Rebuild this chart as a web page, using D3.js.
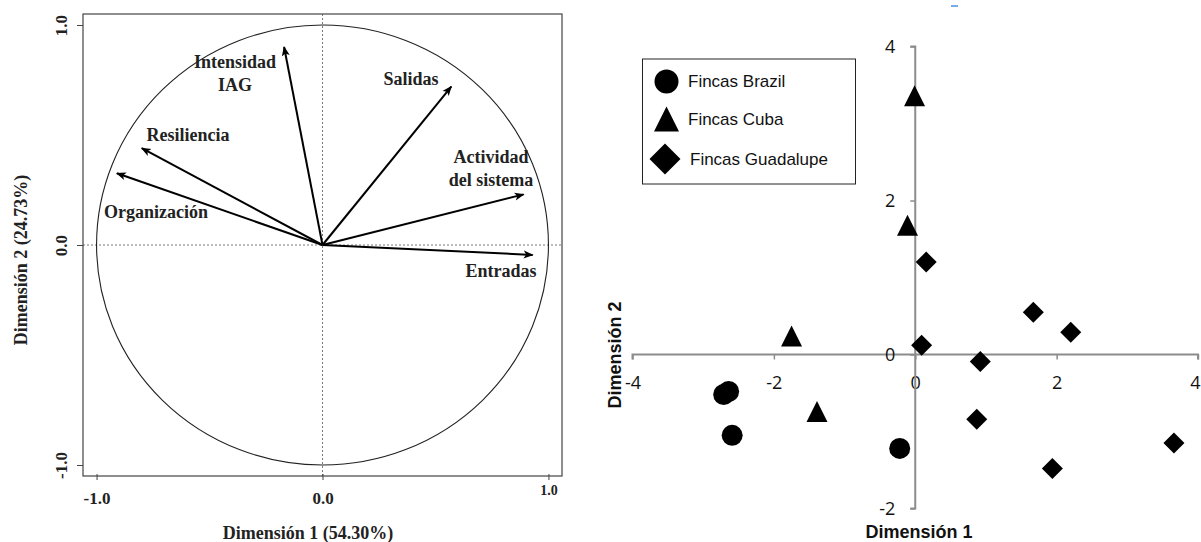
<!DOCTYPE html>
<html><head><meta charset="utf-8">
<script src="https://cdn.jsdelivr.net/npm/d3@7"></script>
<style>html,body{margin:0;padding:0;background:#fff;}svg{display:block;}</style>
</head><body>
<svg id="chart" width="1201" height="542"></svg>
<script>
// ---------- Left panel: correlation circle ----------
const varNames = ["Intensidad IAG", "Resiliencia", "Organización", "Salidas", "Actividad del sistema", "Entradas"];
const varDim1 = [-0.17, -0.80, -0.91, 0.57, 0.89, 0.93];
const varDim2 = [0.90, 0.44, 0.326, 0.72, 0.23, -0.045];
// label anchor points (data units) – lines split by "|"
const varLabelText = ["Intensidad|IAG", "Resiliencia", "Organización", "Salidas", "Actividad|del sistema", "Entradas"];
const varLabelX = [-0.387, -0.595, -0.737, 0.392, 0.746, 0.79];
const varLabelY = [0.78, 0.50, 0.15, 0.755, 0.348, -0.118];
const leftTicks = [-1, 0, 1];
const leftXTitle = "Dimensión 1 (54.30%)";
const leftYTitle = "Dimensión 2 (24.73%)";

// ---------- Right panel: scatter ----------
const brazilX = [-2.71, -2.64, -2.59, -0.22];
const brazilY = [-0.52, -0.48, -1.05, -1.22];
const cubaX = [-0.01, -0.11, -1.75, -1.39];
const cubaY = [3.36, 1.68, 0.24, -0.74];
const guadX = [0.155, 0.09, 0.92, 1.67, 2.20, 0.87, 1.94, 3.66];
const guadY = [1.20, 0.12, -0.09, 0.55, 0.29, -0.84, -1.48, -1.15];
const seriesNames = ["Fincas Brazil", "Fincas Cuba", "Fincas Guadalupe"];
const rightXTicks = [-4, -2, 0, 2, 4];
const rightYTicks = [-2, 0, 2, 4];
const rightXTitle = "Dimensión 1";
const rightYTitle = "Dimensión 2";

const svg = d3.select("#chart");
const serif = "'Liberation Serif','Times New Roman',serif";
const sans = "'Liberation Sans',Arial,sans-serif";
const tickFont = "'Open Sans','Noto Sans',sans-serif";
const fmt1 = d => d.toFixed(1);
const fmt0 = d => String(d);

// ===== LEFT =====
const L = {left: 83, right: 562, top: 14, bottom: 476};
const lx = d3.scaleLinear().domain([-1.06, 1.06]).range([L.left, L.right]);
const ly = d3.scaleLinear().domain([-1.05, 1.05]).range([L.bottom, L.top]);
const gl = svg.append("g");

svg.append("defs").append("marker")
  .attr("id", "arr").attr("viewBox", "0 0 10 10").attr("refX", 9).attr("refY", 5)
  .attr("markerWidth", 5).attr("markerHeight", 5).attr("markerUnits", "strokeWidth")
  .attr("orient", "auto")
  .append("path").attr("d", "M0,1 L10,5 L0,9 L2.5,5 Z").attr("fill", "#000");

gl.append("line").attr("x1", L.left).attr("x2", L.right).attr("y1", ly(0)).attr("y2", ly(0))
  .attr("stroke", "#555").attr("stroke-width", 0.8).attr("stroke-dasharray", "2,2");
gl.append("line").attr("x1", lx(0)).attr("x2", lx(0)).attr("y1", L.top).attr("y2", L.bottom)
  .attr("stroke", "#555").attr("stroke-width", 0.8).attr("stroke-dasharray", "2,2");

gl.append("ellipse").attr("cx", lx(0)).attr("cy", ly(0))
  .attr("rx", lx(1) - lx(0)).attr("ry", ly(0) - ly(1))
  .attr("fill", "none").attr("stroke", "#222").attr("stroke-width", 1.1);

gl.append("rect").attr("x", L.left).attr("y", L.top).attr("width", L.right - L.left).attr("height", L.bottom - L.top)
  .attr("fill", "none").attr("stroke", "#444").attr("stroke-width", 1.2);

gl.selectAll("line.vec").data(varNames).join("line").attr("class", "vec")
  .attr("x1", lx(0)).attr("y1", ly(0))
  .attr("x2", (d, i) => lx(varDim1[i])).attr("y2", (d, i) => ly(varDim2[i]))
  .attr("stroke", "#000").attr("stroke-width", 2).attr("marker-end", "url(#arr)");

varLabelText.forEach((t, i) => {
  const lines = t.split("|");
  const txt = gl.append("text").attr("x", lx(varLabelX[i])).attr("y", ly(varLabelY[i]))
    .attr("text-anchor", "middle").attr("font-family", serif).attr("font-weight", "bold")
    .attr("font-size", 18).attr("fill", "#222");
  const lh = 23;
  lines.forEach((ln, j) => {
    txt.append("tspan").attr("x", lx(varLabelX[i]))
      .attr("y", ly(varLabelY[i]) + (j - (lines.length - 1) / 2) * lh)
      .attr("dy", "0.35em").text(ln);
  });
});

const lxAxis = d3.axisBottom(lx).tickValues(leftTicks).tickFormat(fmt1).tickSize(5);
const gxa = gl.append("g").attr("transform", `translate(0,${L.bottom})`).call(lxAxis);
gxa.select(".domain").remove();
gxa.selectAll(".tick line").attr("stroke", "#444").attr("y1", -2).attr("y2", 4);
gxa.selectAll(".tick text").attr("font-family", serif).attr("font-weight", "bold").attr("font-size", 17)
  .attr("fill", "#222").attr("y", 22).attr("dy", "0.35em");
gxa.selectAll(".tick text").filter(d => d === 1).attr("font-size", 14).attr("y", 14);

const lyAxis = d3.axisLeft(ly).tickValues(leftTicks).tickFormat(fmt1).tickSize(6);
const gya = gl.append("g").attr("transform", `translate(${L.left},0)`).call(lyAxis);
gya.select(".domain").remove();
gya.selectAll(".tick line").attr("stroke", "#444");
gya.selectAll(".tick text").attr("font-family", serif).attr("font-weight", "bold").attr("font-size", 17)
  .attr("fill", "#222").attr("text-anchor", "middle").attr("x", 0).attr("dy", 0)
  .attr("transform", "translate(-16,0) rotate(-90)").attr("y", 0);

gl.append("text").attr("x", 308).attr("y", 533).attr("text-anchor", "middle").attr("dy", "0.35em")
  .attr("font-family", serif).attr("font-weight", "bold").attr("font-size", 18).attr("fill", "#222")
  .text(leftXTitle);
gl.append("text").attr("transform", "translate(21,260) rotate(-90)").attr("text-anchor", "middle").attr("dy", "0.35em")
  .attr("font-family", serif).attr("font-weight", "bold").attr("font-size", 18).attr("fill", "#222")
  .text(leftYTitle);

// ===== RIGHT =====
const rx = d3.scaleLinear().domain([-4, 4]).range([632.5, 1198]);
const ry = d3.scaleLinear().domain([-2, 4]).range([508.5, 46.5]);
const gr = svg.append("g");
const axisCol = "#8c8c8c";

const rxAxis = d3.axisBottom(rx).tickValues(rightXTicks).tickSize(5).tickFormat(fmt0);
const grx = gr.append("g").attr("transform", `translate(0,${ry(0)})`).call(rxAxis);
grx.select(".domain").attr("stroke", axisCol).attr("stroke-width", 2).attr("d", `M${rx(-4)},5V0H${rx(4)}V5`);
grx.selectAll(".tick line").attr("stroke", axisCol).attr("stroke-width", 1.5);
grx.selectAll(".tick text").attr("font-family", tickFont).attr("font-size", 18).attr("fill", "#111")
  .attr("y", 28).attr("dy", "0.35em");
// keep the last label inside the page
grx.selectAll(".tick text").filter(d => d === 4).attr("text-anchor", "end").attr("x", 2);

const ryAxis = d3.axisLeft(ry).tickValues(rightYTicks).tickSize(5).tickFormat(fmt0);
const gry = gr.append("g").attr("transform", `translate(${rx(0)},0)`).call(ryAxis);
gry.select(".domain").attr("stroke", axisCol).attr("stroke-width", 2).attr("d", `M-5,${ry(4)}H0V${ry(-2)}H-5`);
gry.selectAll(".tick line").attr("stroke", axisCol).attr("stroke-width", 1.5);
gry.selectAll(".tick text").attr("font-family", tickFont).attr("font-size", 18).attr("fill", "#111")
  .attr("x", -20).attr("dy", "0.35em");

const triSym = {draw(ctx, size) { const s = Math.sqrt(size); ctx.moveTo(0, -s / 2); ctx.lineTo(s / 2, s / 2); ctx.lineTo(-s / 2, s / 2); ctx.closePath(); }};
const diaSym = {draw(ctx, size) { const s = Math.sqrt(size) / 2; ctx.moveTo(0, -s); ctx.lineTo(s, 0); ctx.lineTo(0, s); ctx.lineTo(-s, 0); ctx.closePath(); }};
const cirSym = {draw(ctx, size) { const r = Math.sqrt(size) / 2; ctx.moveTo(r, 0); ctx.arc(0, 0, r, 0, 2 * Math.PI); }};

function plotSeries(xs, ys, sym, size) {
  gr.selectAll(null).data(xs).join("path")
    .attr("transform", (d, i) => `translate(${rx(d)},${ry(ys[i])})`)
    .attr("d", d3.symbol(sym, size)).attr("fill", "#000");
}
plotSeries(brazilX, brazilY, cirSym, 21 * 21);
plotSeries(cubaX, cubaY, triSym, 21 * 21);
plotSeries(guadX, guadY, diaSym, 21 * 21);

gr.append("text").attr("x", 919).attr("y", 532).attr("text-anchor", "middle").attr("dy", "0.35em")
  .attr("font-family", sans).attr("font-weight", "bold").attr("font-size", 18).attr("fill", "#111").text(rightXTitle);
gr.append("text").attr("transform", "translate(615,355) rotate(-90)").attr("text-anchor", "middle").attr("dy", "0.35em")
  .attr("font-family", sans).attr("font-weight", "bold").attr("font-size", 18).attr("fill", "#111").text(rightYTitle);

const lg = gr.append("g");
lg.append("rect").attr("x", 642.5).attr("y", 59).attr("width", 213).attr("height", 125)
  .attr("fill", "#fff").attr("stroke", "#222").attr("stroke-width", 1);
const legSyms = [cirSym, triSym, diaSym];
const legSizes = [24 * 24, 25 * 25, 31 * 31];
const legY = [81.5, 119, 159];
const legTextX = [688, 688, 690];
seriesNames.forEach((n, i) => {
  lg.append("path").attr("transform", `translate(${i === 2 ? 665 : 666.5},${legY[i]})`)
    .attr("d", d3.symbol(legSyms[i], legSizes[i])).attr("fill", "#000");
  lg.append("text").attr("x", legTextX[i]).attr("y", legY[i]).attr("dy", "0.35em")
    .attr("font-family", sans).attr("font-size", 17).attr("fill", "#111").text(n);
});

svg.append("line").attr("x1", 951).attr("x2", 958).attr("y1", 6).attr("y2", 6)
  .attr("stroke", "#4a90e2").attr("stroke-width", 1.5);
</script>
</body></html>
